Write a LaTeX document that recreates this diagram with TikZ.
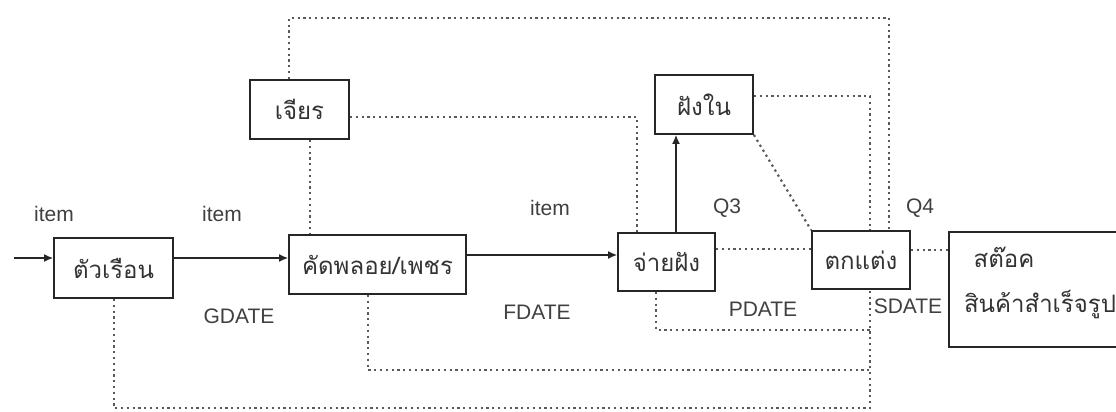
\documentclass[tikz,border=0pt]{standalone}
\usepackage{fontspec}
\setmainfont{Liberation Sans}
\newfontfamily\thai[Script=Thai]{Loma}
\usetikzlibrary{arrows.meta}
\begin{document}
\begin{tikzpicture}[x=1pt,y=-1pt,
  box/.style={draw=black!85,line width=1.8pt,inner sep=0pt,font=\thai\fontsize{24}{28}\selectfont,text=black!80},
  thaitxt/.style={font=\thai\fontsize{24}{28}\selectfont,text=black!80,inner sep=0pt},
  lbl/.style={font=\fontsize{21}{24}\selectfont,text=black!75,inner sep=0pt},
  dots/.style={draw=black!65,line width=2.2pt,dash pattern=on 2.2pt off 3.6pt},
  flow/.style={draw=black!85,line width=1.4pt,-{Latex[length=9pt,width=8pt]}}]
\useasboundingbox (0,0) rectangle (1116,412);
\clip (0,0) rectangle (1116,412);
% boxes
\node[box,minimum width=119pt,minimum height=60pt] (tr) at (113.5,268) {ตัวเรือน};
\node[box,minimum width=177pt,minimum height=59pt] (kd) at (377.5,264.5) {คัดพลอย/เพชร};
\node[box,minimum width=99pt,minimum height=59pt] (jr) at (299.5,109.5) {เจียร};
\node[box,minimum width=98pt,minimum height=59pt] (fn) at (704,104.5) {ฝังใน};
\node[box,minimum width=97pt,minimum height=58pt] (jf) at (666.5,262) {จ่ายฝัง};
\node[box,minimum width=98pt,minimum height=58pt] (tk) at (861,260) {ตกแต่ง};
\node[box,minimum width=185pt,minimum height=115pt,anchor=north west] (st) at (948,231) {};
\node[thaitxt] (s1) at (1004,257) {สต๊อค};
\node[thaitxt] (s2) at (1040,305) {สินค้าสำเร็จรูป};
% labels
\node[lbl] (i1) at (54,214) {item};
\node[lbl] (i2) at (222,214) {item};
\node[lbl] (i3) at (550,208) {item};
\node[lbl] (q3) at (727,208) {Q3};
\node[lbl] (q4) at (920,208) {Q4};
\node[lbl] (gd) at (239,316) {GDATE};
\node[lbl] (fd) at (537,312) {FDATE};
\node[lbl] (pd) at (763,309) {PDATE};
\node[lbl] (sd) at (908,306) {SDATE};
% helper coordinates
\coordinate (top1) at (289,18);
\coordinate (top2) at (889,18);
\coordinate (c2) at (637,117);
\coordinate (c3) at (310,0);
\coordinate (c4) at (870,96);
\coordinate (c6) at (0,249);
\coordinate (c7) at (0,250);
\coordinate (b1) at (114,408);
\coordinate (b2) at (870,408);
\coordinate (b3) at (368,370);
\coordinate (b4) at (656,330);
\coordinate (in) at (14,258);
\coordinate (a1) at (0,258);
\coordinate (a2) at (0,255);
\coordinate (a3) at (676,0);
% dotted connectors
\draw[dots] (jr.north -| top1) -- (top1) -- (top2) -- (tk.north -| top2);
\draw[dots] (jr.east |- c2) -- (c2) -- (jf.north -| c2);
\draw[dots] (jr.south -| c3) -- (kd.north -| c3);
\draw[dots] (fn.east |- c4) -- (c4) -- (tk.north -| c4);
\draw[dots] (fn.south east) -- (tk.north west);
\draw[dots] (jf.east |- c6) -- (tk.west |- c6);
\draw[dots] (tk.east |- c7) -- (st.west |- c7);
\draw[dots] (tr.south -| b1) -- (b1) -- (b2) -- (tk.south -| b2);
\draw[dots] (kd.south -| b3) -- (b3) -- (b3 -| b2);
\draw[dots] (jf.south -| b4) -- (b4) -- (b4 -| b2);
% solid arrows
\draw[flow] (in) -- (tr.west |- in);
\draw[flow] (tr.east |- a1) -- (kd.west |- a1);
\draw[flow] (kd.east |- a2) -- (jf.west |- a2);
\draw[flow] (jf.north -| a3) -- (fn.south -| a3);
\end{tikzpicture}
\end{document}
